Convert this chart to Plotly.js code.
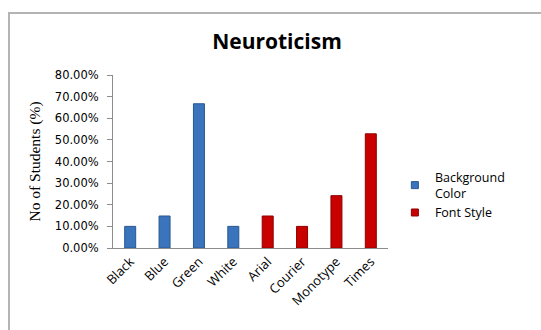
<!DOCTYPE html>
<html>
<head>
<meta charset="utf-8">
<script src="https://cdn.plot.ly/plotly-3.0.1.min.js"></script>
<style>
  html, body { margin: 0; padding: 0; background: #ffffff; }
  #wrap { position: relative; width: 541px; height: 330px; overflow: hidden; }
  #chart { position: absolute; left: 0; top: 0; width: 541px; height: 330px; }
  #frame {
    position: absolute; left: 8px; top: 12px; width: 560px; height: 340px;
    border-left: 2px solid #b4b4b4; border-top: 2px solid #b4b4b4;
    pointer-events: none;
  }
</style>
</head>
<body>
<div id="wrap">
  <div id="chart"></div>
  <div id="frame"></div>
</div>
<script>
// Share of students per preferred option (neuroticism group)
const bgCategories = ["Black", "Blue", "Green", "White"];
const bgValues = [0.10, 0.148, 0.667, 0.10];
const fontCategories = ["Arial", "Courier", "Monotype", "Times"];
const fontValues = [0.148, 0.10, 0.242, 0.528];
const allCategories = bgCategories.concat(fontCategories);
const yTicks = [0, 0.1, 0.2, 0.3, 0.4, 0.5, 0.6, 0.7, 0.8];

const barWidth = 0.32;
const blue = "#3a74bd";
const red = "#c80000";

const traces = [
  {
    type: "bar",
    name: "Background Color",
    x: bgCategories,
    y: bgValues,
    width: barWidth,
    showlegend: false,
    marker: { color: blue, line: { color: "#28578f", width: 1 } },
    hoverinfo: "skip"
  },
  {
    type: "bar",
    name: "Font Style",
    x: fontCategories,
    y: fontValues,
    width: barWidth,
    showlegend: false,
    marker: { color: red, line: { color: "#8e0000", width: 1 } },
    hoverinfo: "skip"
  },
  // small square keys for the legend
  {
    type: "scatter", mode: "markers", name: "Background<br>Color",
    x: [null], y: [null],
    marker: { symbol: "square", size: 7, color: blue, line: { color: "#28578f", width: 1 } },
    hoverinfo: "skip"
  },
  {
    type: "scatter", mode: "markers", name: "Font Style",
    x: [null], y: [null],
    marker: { symbol: "square", size: 7, color: red, line: { color: "#8e0000", width: 1 } },
    hoverinfo: "skip"
  }
];

const layout = {
  width: 541,
  height: 330,
  margin: { l: 113, r: 153, t: 75, b: 82 },
  paper_bgcolor: "#ffffff",
  plot_bgcolor: "#ffffff",
  barmode: "overlay",
  showlegend: true,
  title: {
    text: "<b>Neuroticism</b>",
    font: { family: "'Open Sans', sans-serif", size: 21, color: "#000000" },
    xref: "container", x: 0.512, xanchor: "center",
    yref: "container", y: 0.874, yanchor: "middle"
  },
  xaxis: {
    type: "category",
    categoryorder: "array",
    categoryarray: allCategories,
    range: [-0.5, allCategories.length - 0.5],
    tickangle: -45,
    ticks: "",
    showgrid: false,
    zeroline: false,
    showline: true,
    linecolor: "#8c8c8c",
    linewidth: 1,
    tickfont: { family: "'Open Sans', sans-serif", size: 13, color: "#000000" }
  },
  yaxis: {
    range: [0, 0.8],
    tickvals: yTicks,
    tickformat: ".2%",
    ticks: "outside",
    ticklen: 5,
    tickcolor: "#8c8c8c",
    ticklabelstandoff: 6,
    showgrid: false,
    zeroline: false,
    showline: true,
    linecolor: "#8c8c8c",
    linewidth: 1,
    tickfont: { family: "'DejaVu Sans', Verdana, sans-serif", size: 11.5, color: "#000000" },
    title: {
      text: "No of Students (%)",
      font: { family: "'Liberation Serif', 'Times New Roman', serif", size: 15.5, color: "#000000" },
      standoff: 10
    }
  },
  legend: {
    x: 1.025, xanchor: "left",
    y: 0.495, yanchor: "top",
    bgcolor: "rgba(0,0,0,0)",
    font: { family: "'Open Sans', sans-serif", size: 12.5, color: "#000000" },
    itemwidth: 30,
    tracegroupgap: 0
  }
};

Plotly.newPlot("chart", traces, layout, { staticPlot: true, displayModeBar: false });
</script>
</body>
</html>
